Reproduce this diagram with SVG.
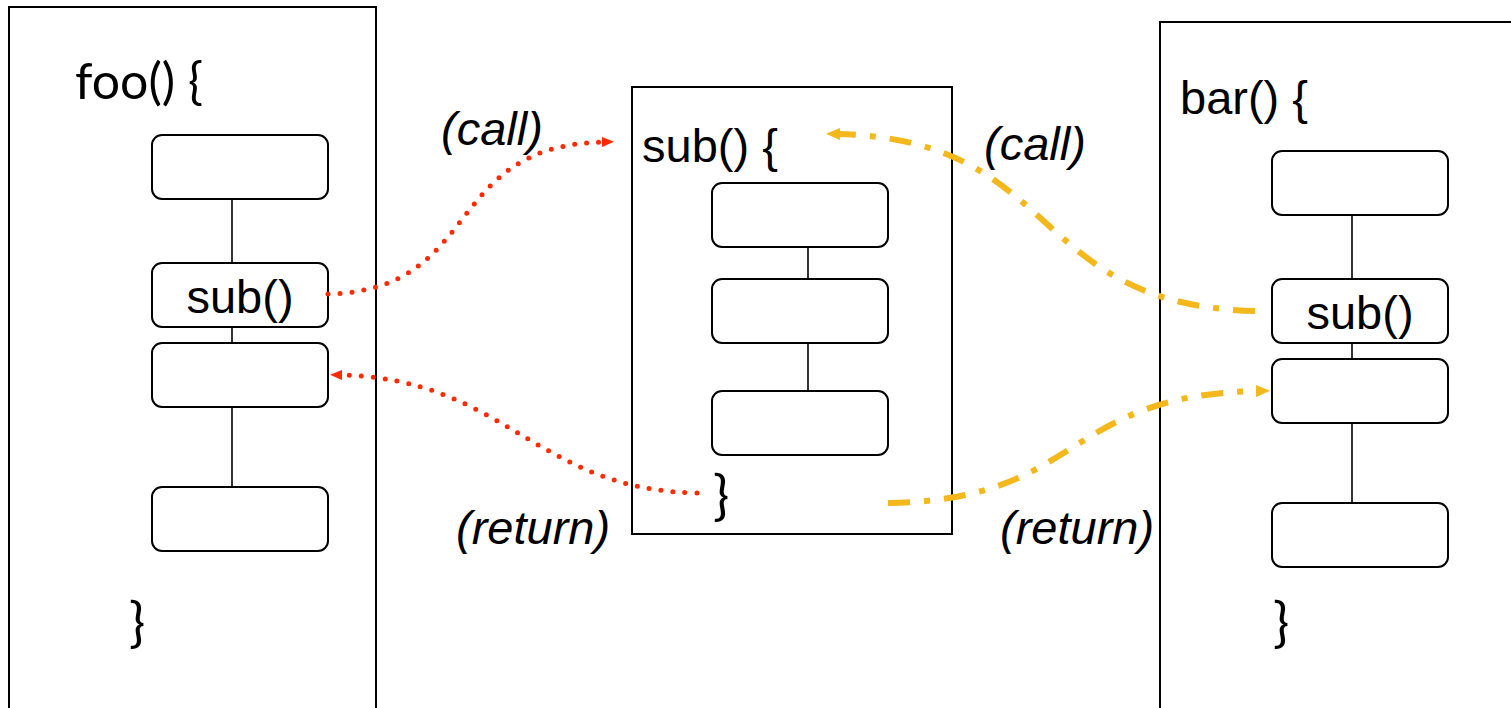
<svg xmlns="http://www.w3.org/2000/svg" width="1511" height="708" viewBox="0 0 1511 708">
  <style>
    .frame { fill: #fff; stroke: #000; stroke-width: 2; }
    .step { fill: #fff; stroke: #000; stroke-width: 2; }
    .link { stroke: #000; stroke-width: 1.6; fill: none; }
    .code { font-family: "Liberation Sans", Arial, sans-serif; font-size: 47px; fill: #000; }
    .code2 { font-family: Lato, "Liberation Sans", sans-serif; font-size: 50px; fill: #000; }
    .brace { font-family: Lato, "Liberation Sans", sans-serif; font-size: 54px; fill: #000; }
    .note { font-family: "Liberation Sans", Arial, sans-serif; font-size: 47px; font-style: italic; fill: #000; }
    .red { fill: none; stroke: #ff2a00; stroke-width: 5; stroke-linecap: round; stroke-dasharray: 0 12; }
    .gold { fill: none; stroke: #f4b71c; stroke-width: 6; stroke-dasharray: 22 14 6 14; }
  </style>
  <defs>
    <marker id="headRed" viewBox="0 0 12 10" refX="2" refY="5" markerWidth="12" markerHeight="10" markerUnits="userSpaceOnUse" orient="auto">
      <path d="M0,0 L12,5 L0,10 Z" fill="#ff2a00"/>
    </marker>
    <marker id="headGold" viewBox="0 0 14 12" refX="2" refY="6" markerWidth="14" markerHeight="12" markerUnits="userSpaceOnUse" orient="auto">
      <path d="M0,0 L14,6 L0,12 Z" fill="#f4b71c"/>
    </marker>
  </defs>

  <rect width="1511" height="708" fill="#fff"/>

  <!-- foo() -->
  <g id="foo">
    <rect class="frame" x="9" y="7" width="367" height="720"/>
    <text class="code2" x="75" y="99">foo() {</text>
    <line class="link" x1="232" y1="199" x2="232" y2="263"/>
    <line class="link" x1="232" y1="327" x2="232" y2="343"/>
    <line class="link" x1="232" y1="407" x2="232" y2="487"/>
    <rect class="step" x="152" y="135" width="176" height="64" rx="10"/>
    <rect class="step" x="152" y="263" width="176" height="64" rx="10"/>
    <text class="code" x="240" y="313" text-anchor="middle">sub()</text>
    <rect class="step" x="152" y="343" width="176" height="64" rx="10"/>
    <rect class="step" x="152" y="487" width="176" height="64" rx="10"/>
    <text class="brace" x="129" y="641">}</text>
  </g>

  <!-- sub() -->
  <g id="sub">
    <rect class="frame" x="632" y="87" width="320" height="447"/>
    <text class="code" x="642" y="162">sub() {</text>
    <line class="link" x1="808" y1="247" x2="808" y2="279"/>
    <line class="link" x1="808" y1="343" x2="808" y2="391"/>
    <rect class="step" x="712" y="183" width="176" height="64" rx="10"/>
    <rect class="step" x="712" y="279" width="176" height="64" rx="10"/>
    <rect class="step" x="712" y="391" width="176" height="64" rx="10"/>
    <text class="brace" x="713" y="514">}</text>
  </g>

  <!-- bar() -->
  <g id="bar">
    <rect class="frame" x="1160" y="22" width="400" height="720"/>
    <text class="code" x="1180" y="114">bar() {</text>
    <line class="link" x1="1352" y1="215" x2="1352" y2="279"/>
    <line class="link" x1="1352" y1="343" x2="1352" y2="359"/>
    <line class="link" x1="1352" y1="423" x2="1352" y2="503"/>
    <rect class="step" x="1272" y="151" width="176" height="64" rx="10"/>
    <rect class="step" x="1272" y="279" width="176" height="64" rx="10"/>
    <text class="code" x="1360" y="329" text-anchor="middle">sub()</text>
    <rect class="step" x="1272" y="359" width="176" height="64" rx="10"/>
    <rect class="step" x="1272" y="503" width="176" height="64" rx="10"/>
    <text class="brace" x="1273" y="641">}</text>
  </g>

  <!-- call / return connectors -->
  <g id="connectors">
    <path class="red" d="M328,294 C485,290 440,145 604,142" marker-end="url(#headRed)"/>
    <path class="red" d="M697,493 C535,490 505,378 340,375" marker-end="url(#headRed)"/>
    <path class="gold" d="M1255,311 C1025,305 1065,140 838,134" marker-end="url(#headGold)"/>
    <path class="gold" d="M888,503 C1085,500 1060,395 1258,391" marker-end="url(#headGold)"/>
    <text class="note" x="441" y="145">(call)</text>
    <text class="note" x="456" y="544">(return)</text>
    <text class="note" x="984" y="160">(call)</text>
    <text class="note" x="1000" y="544">(return)</text>
  </g>
</svg>
